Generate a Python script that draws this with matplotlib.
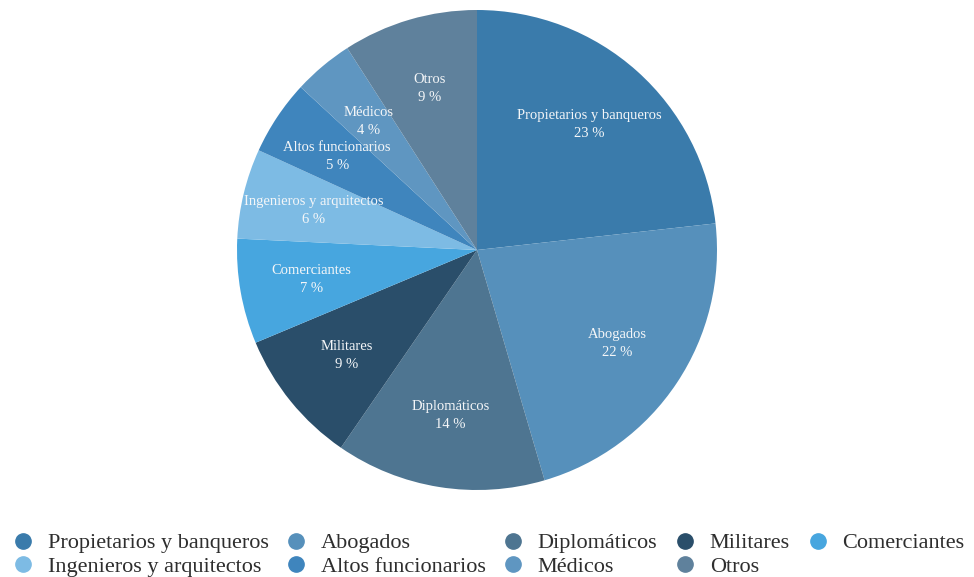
import numpy as np
import matplotlib.pyplot as plt
from matplotlib.lines import Line2D

plt.rcParams['font.family'] = ['Liberation Serif', 'DejaVu Serif']

# profession shares (%)
categories = ['Propietarios y banqueros', 'Abogados', 'Diplomáticos', 'Militares',
              'Comerciantes', 'Ingenieros y arquitectos', 'Altos funcionarios',
              'Médicos', 'Otros']
shares = [23, 22, 14, 9, 7, 6, 5, 4, 9]
colors = ['#3a7bab', '#5690bb', '#4e7591', '#2a4e6a', '#47a6df',
          '#7dbbe4', '#3f85bd', '#5f96c1', '#5f819c']

fig = plt.figure(figsize=(9.74, 5.77), dpi=100)
ax = fig.add_axes([237 / 974, 87 / 577, 480 / 974, 480 / 577])

wedges, _ = ax.pie(shares, colors=colors, startangle=90, counterclock=False,
                   radius=1, wedgeprops=dict(linewidth=0))
ax.set_xlim(-1, 1)
ax.set_ylim(-1, 1)
ax.set_aspect('equal')

# labels inside each wedge
for w, name, v in zip(wedges, categories, shares):
    ang = np.deg2rad((w.theta1 + w.theta2) / 2)
    r = 0.7
    ax.text(r * np.cos(ang), r * np.sin(ang), f'{name}\n{v} %',
            ha='center', va='center', color='#f4f6f8', fontsize=10.5,
            linespacing=1.5)

# legend, two rows filled column by column
order = [0, 5, 1, 6, 2, 7, 3, 8, 4]
handles = [Line2D([], [], marker='o', linestyle='', markersize=11,
                  markerfacecolor=colors[i], markeredgecolor=colors[i])
           for i in order]
fig.legend(handles, [categories[i] for i in order], ncol=5,
           loc='lower center', bbox_to_anchor=(0.5, -0.034), frameon=False,
           fontsize=16, handletextpad=0.5, columnspacing=0.65,
           labelspacing=0.12, handlelength=1.2, labelcolor='#2e2e2e')

fig.savefig('out.png', dpi=100, facecolor='white')
